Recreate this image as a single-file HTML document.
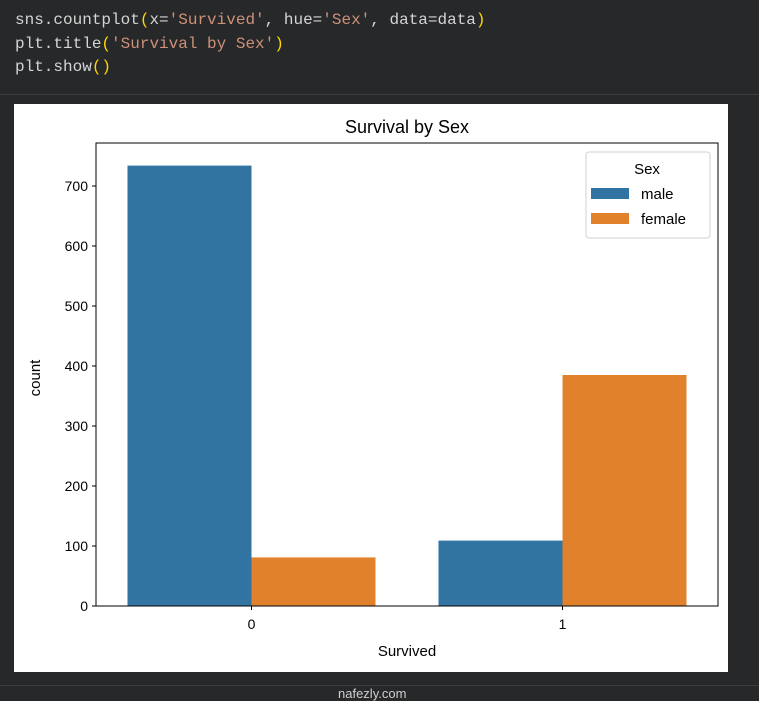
<!DOCTYPE html>
<html><head><meta charset="utf-8"><style>
html,body{margin:0;padding:0;background:#27282a;width:759px;height:701px;overflow:hidden}
.code{position:absolute;left:15px;top:9px;font-family:"Liberation Mono",monospace;font-size:16px;line-height:23.5px;color:#d4d4d4;white-space:pre}
.s{color:#ce9178}.p{color:#ffd700}
</style></head><body>
<div class="code">sns.countplot<span class="p">(</span>x=<span class="s">'Survived'</span>, hue=<span class="s">'Sex'</span>, data=data<span class="p">)</span>
plt.title<span class="p">(</span><span class="s">'Survival by Sex'</span><span class="p">)</span>
plt.show<span class="p">()</span></div>
<div style="position:absolute;left:0;top:94px;width:759px;height:1px;background:#3c3d40"></div>
<div style="position:absolute;left:0;top:685px;width:759px;height:1px;background:#3c3d40"></div>
<svg id="chart" width="759" height="701" style="position:absolute;left:0;top:0" font-family="Liberation Sans, DejaVu Sans, sans-serif">
<rect x="14" y="104" width="714" height="568" fill="#fff"/>
</svg>
<div style="position:absolute;left:338px;top:686px;font-family:'Liberation Sans',sans-serif;font-size:13px;color:#cfcfcf">nafezly.com</div>
<script>
const categories=['0','1'];
const hues=['male','female'];
const maleValues=[734,109];
const femaleValues=[81,385];
const yTicks=[0,100,200,300,400,500,600,700];
const colors=['#3274a1','#e1812c'];
const svg=document.getElementById('chart');
const NS='http://www.w3.org/2000/svg';
const L=96,R=718,T=143,B=606;
const y=v=>B-v*0.6;
const x=c=>L+(c+0.5)*(R-L)/2;
function mk(t,a){const e=document.createElementNS(NS,t);for(const k in a)e.setAttribute(k,a[k]);svg.appendChild(e);return e;}
const series=[maleValues,femaleValues];
const bw=124;
series.forEach((vals,h)=>{vals.forEach((v,i)=>{
 const r=mk('rect',{x:x(i)+(h===0?-bw:0),y:y(v),width:bw,height:B-y(v),fill:colors[h]});
 
 
});});
const ax=mk('rect',{x:L,y:T,width:R-L,height:B-T,fill:'none',stroke:'#000','stroke-width':1});


yTicks.forEach(t=>{
 const l=mk('line',{x1:L-4,x2:L,y1:y(t),y2:y(t),stroke:'#000'});
 
 
 const tx=mk('text',{x:L-8,y:y(t)+5,'text-anchor':'end','font-size':'14'});
 tx.textContent=t;
 
 
});
categories.forEach((c,i)=>{
 const l=mk('line',{x1:x(i),x2:x(i),y1:B,y2:B+4,stroke:'#000'});
 
 
 const tx=mk('text',{x:x(i),y:B+23,'text-anchor':'middle','font-size':'14'});
 tx.textContent=c;
 
 
});
let e=mk('text',{x:407,y:133,'text-anchor':'middle','font-size':'18'});e.textContent='Survival by Sex';


e=mk('text',{x:407,y:656,'text-anchor':'middle','font-size':'15'});e.textContent='Survived';


e=mk('text',{x:40,y:378,'text-anchor':'middle','font-size':'15',transform:'rotate(-90 40 378)'});e.textContent='count';


e=mk('rect',{x:586,y:152,width:124,height:86,rx:3,fill:'#fff',stroke:'#d0d0d0'});


e=mk('text',{x:647,y:174,'text-anchor':'middle','font-size':'15'});e.textContent='Sex';


hues.forEach((h,i)=>{
 const r=mk('rect',{x:591,y:188+i*25,width:38,height:11,fill:colors[i]});
 
 
 const t=mk('text',{x:641,y:199+i*25,'font-size':'15'});t.textContent=h;
 
 
});
</script>
</body></html>
